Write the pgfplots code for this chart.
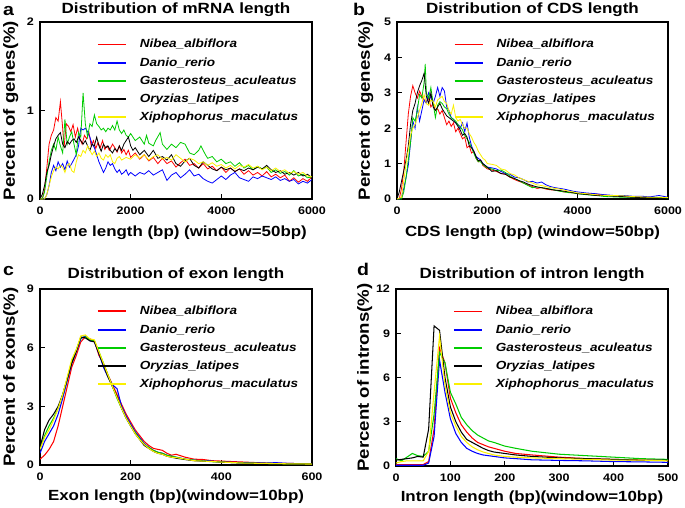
\documentclass[border=0pt]{standalone}
\usepackage{fontspec}
\setmainfont{Liberation Sans}[FakeStretch=1.15]
\usepackage{pgfplots}
\pgfplotsset{compat=1.18}

\definecolor{cred}{RGB}{255,0,0}
\definecolor{cblue}{RGB}{0,0,255}
\definecolor{cgreen}{RGB}{0,204,0}
\definecolor{cyel}{RGB}{250,240,0}

\tikzset{lwa/.style={line width=0.8pt}, lwc/.style={line width=1.05pt}}

\pgfplotsset{
  lgred/.style={legend image code/.code={\draw[cred, line width=1.8pt] (0pt,0pt) -- (28pt,0pt);}},
  lgblue/.style={legend image code/.code={\draw[cblue, line width=1.8pt] (0pt,0pt) -- (28pt,0pt);}},
  lggreen/.style={legend image code/.code={\draw[cgreen, line width=1.8pt] (0pt,0pt) -- (28pt,0pt);}},
  lgblack/.style={legend image code/.code={\draw[black, line width=1.5pt] (0pt,0pt) -- (28pt,0pt);}},
  lgyel/.style={legend image code/.code={\draw[cyel, line width=2pt] (0pt,0pt) -- (28pt,0pt);}},
  panel/.style={
    scale only axis,
    axis line style={line width=1.2pt},
    tick style={black, line width=1pt},
    major tick length=5pt,
    tick align=inside,
    xtick pos=bottom, ytick pos=left,
    /pgf/number format/assume math mode=true,
    /pgf/number format/1000 sep={},
    tick label style={font=\bfseries\fontsize{10.9}{12}\selectfont},
    xticklabel style={yshift=-4pt},
    yticklabel style={xshift=-2.5pt},
    title style={at={(0.5,1)}, anchor=base, yshift=3pt, font=\bfseries\fontsize{14.8}{17}\selectfont},
    xlabel style={at={(0.5,0)}, anchor=base, yshift=-37pt, font=\bfseries\fontsize{14.7}{16}\selectfont},
    ylabel style={anchor=base, font=\bfseries\fontsize{16.2}{18}\selectfont},
    legend cell align=left,
    legend style={at={(0.208,0.914)}, anchor=north west, draw=none, fill=none,
      font=\bfseries\itshape\fontsize{11.8}{13}\selectfont,
      row sep=4.2pt, inner sep=0pt,
      /tikz/every odd column/.append style={column sep=11pt}},
  },
}

\newcommand{\fishlegend}{%
  \addlegendimage{lgred}\addlegendentry{Nibea\_albiflora}
  \addlegendimage{lgblue}\addlegendentry{Danio\_rerio}
  \addlegendimage{lggreen}\addlegendentry{Gasterosteus\_aculeatus}
  \addlegendimage{lgblack}\addlegendentry{Oryzias\_latipes}
  \addlegendimage{lgyel}\addlegendentry{Xiphophorus\_maculatus}
}

\begin{document}
\begin{tikzpicture}
\useasboundingbox (0,0) rectangle (685pt,-507pt);

% ---------------- a: mRNA length
\begin{axis}[panel, at={(40pt,-199pt)}, anchor=south west, width=272pt, height=177pt,
  xmin=0, xmax=6000, ymin=0, ymax=2, xtick={0,2000,4000,6000}, ytick={0,1,2},
  title={Distribution of mRNA length},
  xlabel={Gene length (bp) (window=50bp)},
  ylabel={Percent of genes(\%)}, ylabel style={at={(axis description cs:-0.092,0.5)}}]
\addplot[draw=cred, lwa, forget plot] coordinates {(0,0) (50,0) (100,0.1) (150,0.35) (200,0.62) (250,0.72) (300,0.78) (350,0.92) (400,0.88) (450,1.1) (500,0.8) (530,0.58) (580,0.85) (630,0.82) (680,0.76) (730,0.84) (780,0.7) (830,0.8) (880,0.68) (930,0.62) (980,0.72) (1030,0.68) (1080,0.75) (1130,0.6) (1180,0.66) (1230,0.57) (1280,0.64) (1330,0.58) (1380,0.66) (1430,0.56) (1480,0.6) (1530,0.55) (1600,0.62) (1650,0.58) (1700,0.53) (1750,0.6) (1800,0.52) (1850,0.56) (1900,0.5) (1950,0.55) (2000,0.47) (2100,0.52) (2200,0.45) (2300,0.5) (2400,0.43) (2500,0.47) (2600,0.4) (2700,0.46) (2800,0.4) (2900,0.43) (3000,0.36) (3100,0.41) (3200,0.45) (3300,0.38) (3400,0.4) (3500,0.35) (3600,0.4) (3700,0.34) (3800,0.37) (3900,0.32) (4000,0.36) (4100,0.3) (4200,0.35) (4300,0.31) (4400,0.34) (4500,0.28) (4600,0.32) (4700,0.27) (4800,0.3) (4900,0.26) (5000,0.31) (5100,0.25) (5200,0.28) (5300,0.24) (5400,0.27) (5500,0.2) (5600,0.24) (5700,0.19) (5800,0.23) (5900,0.2) (6000,0.25)};
\addplot[draw=cblue, lwa, forget plot] coordinates {(0,0) (100,0) (150,0.05) (200,0.15) (250,0.3) (300,0.38) (350,0.32) (400,0.42) (450,0.36) (500,0.4) (550,0.33) (600,0.43) (650,0.36) (700,0.4) (750,0.45) (800,0.5) (850,0.6) (900,0.8) (950,0.78) (1000,0.8) (1050,0.76) (1100,0.7) (1150,0.62) (1200,0.58) (1250,0.5) (1300,0.42) (1350,0.36) (1400,0.3) (1450,0.35) (1500,0.42) (1550,0.38) (1600,0.4) (1650,0.34) (1700,0.3) (1750,0.33) (1800,0.28) (1850,0.3) (1900,0.33) (1950,0.27) (2000,0.3) (2100,0.26) (2200,0.3) (2300,0.28) (2400,0.32) (2500,0.27) (2600,0.3) (2700,0.33) (2800,0.21) (2900,0.27) (3000,0.3) (3100,0.24) (3200,0.28) (3300,0.33) (3400,0.26) (3500,0.28) (3600,0.23) (3700,0.2) (3800,0.18) (3900,0.22) (4000,0.26) (4100,0.22) (4200,0.27) (4300,0.3) (4400,0.24) (4500,0.22) (4600,0.2) (4700,0.25) (4800,0.23) (4900,0.26) (5000,0.24) (5100,0.22) (5200,0.25) (5300,0.21) (5400,0.23) (5500,0.2) (5600,0.22) (5700,0.17) (5800,0.2) (5900,0.18) (6000,0.22)};
\addplot[draw=cgreen, lwa, forget plot] coordinates {(0,0) (50,0) (100,0.08) (150,0.25) (200,0.42) (250,0.55) (300,0.62) (350,0.55) (400,0.7) (450,0.6) (500,0.52) (550,0.9) (600,0.62) (650,0.7) (700,0.76) (750,0.62) (800,0.5) (850,0.75) (900,0.7) (950,1.2) (1000,0.85) (1050,0.7) (1100,0.85) (1150,0.82) (1200,0.95) (1250,0.85) (1300,0.82) (1350,0.78) (1400,0.8) (1450,0.76) (1500,0.8) (1550,0.78) (1600,0.83) (1650,0.78) (1700,0.88) (1750,0.78) (1800,0.74) (1850,0.78) (1900,0.72) (1950,0.7) (2000,0.74) (2100,0.66) (2200,0.7) (2300,0.62) (2350,0.72) (2400,0.63) (2500,0.6) (2550,0.66) (2650,0.75) (2700,0.62) (2800,0.56) (2900,0.62) (3000,0.58) (3100,0.64) (3200,0.62) (3300,0.52) (3400,0.5) (3500,0.55) (3550,0.6) (3650,0.5) (3700,0.46) (3800,0.48) (3900,0.42) (4000,0.45) (4100,0.4) (4200,0.42) (4300,0.37) (4400,0.41) (4500,0.35) (4600,0.38) (4700,0.33) (4800,0.37) (4900,0.34) (5000,0.36) (5100,0.3) (5200,0.33) (5300,0.29) (5400,0.31) (5500,0.27) (5600,0.32) (5700,0.26) (5800,0.28) (5900,0.24) (6000,0.25)};
\addplot[draw=black, lwa, forget plot] coordinates {(0,0) (50,0.05) (100,0.15) (150,0.3) (200,0.38) (250,0.5) (300,0.6) (350,0.68) (400,0.72) (450,0.75) (500,0.62) (550,0.58) (600,0.65) (650,0.62) (700,0.66) (750,0.68) (800,0.64) (850,0.7) (900,0.66) (950,0.62) (1000,0.66) (1050,0.6) (1100,0.55) (1150,0.62) (1200,0.6) (1250,0.7) (1300,0.6) (1350,0.54) (1400,0.62) (1450,0.58) (1500,0.6) (1550,0.55) (1600,0.52) (1650,0.57) (1700,0.54) (1750,0.6) (1800,0.55) (1850,0.62) (1900,0.66) (1950,0.7) (2000,0.6) (2050,0.55) (2100,0.58) (2200,0.5) (2300,0.55) (2400,0.48) (2500,0.55) (2600,0.46) (2700,0.48) (2800,0.44) (2900,0.5) (3000,0.4) (3100,0.37) (3200,0.43) (3300,0.46) (3400,0.38) (3500,0.35) (3600,0.42) (3700,0.38) (3800,0.34) (3900,0.32) (4000,0.36) (4100,0.33) (4200,0.35) (4300,0.31) (4400,0.34) (4500,0.32) (4600,0.35) (4700,0.33) (4800,0.36) (4900,0.34) (5000,0.38) (5100,0.33) (5200,0.3) (5300,0.32) (5400,0.28) (5500,0.3) (5600,0.27) (5700,0.3) (5800,0.26) (5900,0.28) (6000,0.24)};
\addplot[draw=cyel, lwa, forget plot] coordinates {(0,0) (100,0) (150,0.05) (200,0.15) (250,0.25) (300,0.32) (350,0.36) (400,0.34) (450,0.38) (500,0.36) (550,0.3) (600,0.38) (650,0.4) (700,0.32) (750,0.3) (800,0.42) (850,0.5) (900,0.48) (950,0.55) (1000,0.52) (1050,0.6) (1100,0.55) (1150,0.5) (1200,0.54) (1250,0.48) (1300,0.52) (1350,0.46) (1400,0.44) (1450,0.5) (1500,0.47) (1550,0.5) (1600,0.42) (1650,0.4) (1700,0.46) (1750,0.48) (1800,0.44) (1900,0.47) (2000,0.45) (2100,0.5) (2200,0.46) (2300,0.5) (2400,0.44) (2500,0.48) (2600,0.5) (2700,0.45) (2800,0.47) (2900,0.44) (3000,0.5) (3100,0.46) (3200,0.42) (3300,0.46) (3400,0.44) (3500,0.4) (3600,0.42) (3700,0.38) (3800,0.41) (3900,0.37) (4000,0.39) (4100,0.35) (4200,0.38) (4300,0.34) (4400,0.38) (4500,0.36) (4600,0.39) (4700,0.35) (4800,0.37) (4900,0.33) (5000,0.36) (5100,0.32) (5200,0.35) (5300,0.31) (5400,0.33) (5500,0.29) (5600,0.31) (5700,0.28) (5800,0.3) (5900,0.26) (6000,0.25)};
\fishlegend
\end{axis}

% ---------------- b: CDS length
\begin{axis}[panel, at={(397pt,-199pt)}, anchor=south west, width=271pt, height=177pt,
  xmin=0, xmax=6000, ymin=0, ymax=5, xtick={0,2000,4000,6000}, ytick={0,1,2,3,4,5},
  title={Distribution of CDS length},
  xlabel={CDS length (bp) (window=50bp)},
  ylabel={Percent of genes(\%)}, ylabel style={at={(axis description cs:-0.1,0.5)}}]
\addplot[draw=cred, lwa, forget plot] coordinates {(0,0) (50,0) (100,0.3) (150,0.8) (200,1.6) (250,2.4) (300,2.9) (350,3.2) (400,3.0) (450,2.85) (500,3.05) (550,2.9) (600,2.8) (650,2.75) (700,2.85) (750,2.6) (800,2.7) (850,2.5) (900,2.55) (950,2.4) (1000,2.5) (1050,2.3) (1100,2.1) (1150,2.2) (1200,2.05) (1250,2.15) (1300,1.9) (1350,2.0) (1400,1.85) (1450,1.7) (1500,1.75) (1550,1.45) (1600,1.5) (1650,1.3) (1700,1.35) (1750,1.15) (1800,1.05) (1850,1.1) (1900,0.95) (1950,0.9) (2000,0.85) (2100,0.82) (2200,0.78) (2300,0.72) (2400,0.7) (2500,0.62) (2600,0.55) (2700,0.5) (2800,0.45) (2900,0.4) (3000,0.35) (3100,0.3) (3200,0.32) (3300,0.28) (3400,0.26) (3500,0.25) (3600,0.23) (3700,0.2) (3800,0.2) (3900,0.17) (4000,0.16) (4200,0.15) (4400,0.14) (4600,0.11) (4800,0.09) (5000,0.08) (5200,0.07) (5400,0.05) (5600,0.05) (5800,0.04) (6000,0.04)};
\addplot[draw=cblue, lwa, forget plot] coordinates {(0,0) (50,0) (100,0.05) (150,0.3) (200,0.6) (250,0.95) (300,1.6) (350,2.2) (400,2.0) (450,2.6) (500,2.2) (550,2.5) (600,2.8) (650,2.7) (700,3.0) (750,2.85) (800,2.7) (850,2.9) (900,3.15) (950,2.9) (1000,3.15) (1050,3.05) (1100,2.6) (1150,2.5) (1200,2.3) (1250,2.25) (1300,2.15) (1350,2.1) (1400,2.0) (1450,2.15) (1500,1.9) (1550,2.15) (1600,1.75) (1650,1.5) (1700,1.35) (1750,1.2) (1800,1.15) (1850,1.1) (1900,1.0) (1950,0.95) (2000,0.9) (2100,0.88) (2200,0.85) (2300,0.78) (2400,0.72) (2500,0.7) (2600,0.62) (2700,0.6) (2800,0.55) (2900,0.48) (3000,0.5) (3100,0.45) (3200,0.48) (3300,0.4) (3400,0.35) (3500,0.32) (3600,0.3) (3700,0.28) (3800,0.25) (3900,0.22) (4000,0.2) (4200,0.17) (4400,0.15) (4600,0.12) (4800,0.1) (5000,0.1) (5200,0.08) (5400,0.08) (5600,0.06) (5800,0.1) (6000,0.05)};
\addplot[draw=cgreen, lwa, forget plot] coordinates {(0,0) (100,0) (150,0.2) (200,0.6) (250,1.1) (300,1.6) (350,2.3) (400,2.2) (450,2.5) (500,2.95) (550,2.85) (600,3.3) (625,3.82) (650,3.0) (700,2.85) (750,3.15) (800,2.7) (850,2.3) (900,2.65) (950,2.75) (1000,2.7) (1050,2.6) (1100,2.55) (1150,2.4) (1200,2.3) (1250,2.25) (1300,2.2) (1350,2.1) (1400,2.05) (1450,1.95) (1500,1.8) (1550,1.7) (1600,1.6) (1650,1.45) (1700,1.3) (1750,1.15) (1800,1.05) (1850,1.05) (1900,0.98) (1950,0.92) (2000,0.88) (2100,0.85) (2200,0.8) (2300,0.82) (2400,0.75) (2500,0.65) (2600,0.58) (2700,0.52) (2800,0.45) (2900,0.38) (3000,0.32) (3100,0.34) (3200,0.32) (3300,0.3) (3400,0.28) (3500,0.25) (3600,0.22) (3700,0.2) (3800,0.18) (3900,0.17) (4000,0.15) (4200,0.12) (4400,0.1) (4600,0.07) (4800,0.06) (5000,0.05) (5200,0.05) (5400,0.04) (5600,0.04) (5800,0.04) (6000,0.03)};
\addplot[draw=black, lwa, forget plot] coordinates {(0,0) (50,0.2) (100,0.5) (150,0.8) (200,1.1) (250,1.5) (300,2.1) (350,2.5) (400,2.7) (450,3.0) (500,3.2) (550,3.35) (600,3.55) (650,2.9) (700,2.7) (750,3.0) (800,2.6) (850,2.5) (900,2.6) (950,2.7) (1000,2.55) (1050,2.45) (1100,2.35) (1150,2.3) (1200,2.25) (1250,2.2) (1300,2.15) (1350,2.05) (1400,1.95) (1450,1.8) (1500,1.85) (1550,1.75) (1600,1.5) (1650,1.45) (1700,1.35) (1750,1.2) (1800,1.08) (1850,1.1) (1900,1.0) (1950,0.95) (2000,0.9) (2100,0.78) (2200,0.8) (2300,0.72) (2400,0.7) (2500,0.62) (2600,0.58) (2700,0.52) (2800,0.48) (2900,0.42) (3000,0.38) (3100,0.34) (3200,0.32) (3300,0.3) (3400,0.27) (3500,0.25) (3600,0.24) (3700,0.22) (3800,0.2) (3900,0.18) (4000,0.15) (4200,0.13) (4400,0.1) (4600,0.1) (4800,0.08) (5000,0.07) (5200,0.05) (5400,0.04) (5600,0.04) (5800,0.03) (6000,0.03)};
\addplot[draw=cyel, lwa, forget plot] coordinates {(0,0) (100,0.05) (150,0.5) (200,1.0) (250,1.4) (300,1.8) (350,2.0) (400,2.1) (450,2.3) (500,2.5) (550,2.7) (600,2.95) (650,2.7) (700,2.65) (750,2.8) (800,2.75) (850,2.6) (900,2.8) (950,2.85) (1000,2.9) (1050,2.75) (1100,2.7) (1150,2.5) (1200,2.4) (1250,2.65) (1300,2.3) (1350,2.2) (1400,2.25) (1450,2.1) (1500,2.0) (1550,2.0) (1600,1.85) (1650,1.75) (1700,1.6) (1750,1.5) (1800,1.35) (1850,1.25) (1900,1.15) (1950,1.1) (2000,1.0) (2100,0.98) (2200,0.95) (2300,0.85) (2400,0.82) (2500,0.72) (2600,0.68) (2700,0.6) (2800,0.55) (2900,0.5) (3000,0.45) (3100,0.4) (3200,0.38) (3300,0.35) (3400,0.32) (3500,0.3) (3600,0.28) (3700,0.25) (3800,0.22) (3900,0.2) (4000,0.17) (4200,0.15) (4400,0.12) (4600,0.1) (4800,0.1) (5000,0.09) (5200,0.07) (5400,0.06) (5600,0.05) (5800,0.05) (6000,0.04)};
\fishlegend
\end{axis}

% ---------------- c: exon length
\begin{axis}[panel, at={(40pt,-465pt)}, anchor=south west, width=272pt, height=176pt,
  xmin=0, xmax=600, ymin=0, ymax=9, xtick={0,200,400,600}, ytick={0,3,6,9},
  title={Distribution of exon length}, title style={yshift=1.5pt},
  xlabel={Exon length (bp)(window=10bp)}, xlabel style={yshift=2pt},
  ylabel={Percent of exons(\%)}, ylabel style={at={(axis description cs:-0.092,0.5)}}]
\addplot[draw=cred, lwc, forget plot] coordinates {(0,0.3) (10,0.5) (20,0.8) (30,1.2) (40,2.0) (50,3.0) (60,4.0) (70,5.0) (80,5.6) (90,6.3) (100,6.55) (110,6.45) (120,6.35) (130,5.6) (140,5.2) (150,4.6) (160,4.1) (170,3.6) (180,3.1) (190,2.6) (200,2.2) (210,1.8) (220,1.5) (230,1.2) (240,1.0) (250,0.85) (260,0.8) (270,0.75) (280,0.6) (290,0.5) (300,0.55) (320,0.4) (340,0.3) (360,0.28) (380,0.22) (400,0.2) (450,0.15) (500,0.1) (550,0.08) (600,0.06)};
\addplot[draw=cblue, lwc, forget plot] coordinates {(0,0.6) (10,1.2) (20,1.6) (30,2.0) (40,2.6) (50,3.4) (60,4.3) (70,5.2) (80,5.8) (90,6.45) (100,6.6) (110,6.35) (120,6.3) (130,5.7) (140,5.0) (150,4.5) (160,4.1) (170,3.9) (180,3.0) (190,2.5) (200,2.1) (210,1.7) (220,1.4) (230,1.1) (240,0.9) (250,0.75) (260,0.65) (270,0.6) (280,0.5) (290,0.45) (300,0.4) (320,0.3) (340,0.25) (360,0.2) (370,0.22) (400,0.15) (450,0.12) (500,0.1) (520,0.12) (550,0.08) (600,0.06)};
\addplot[draw=cgreen, lwc, forget plot] coordinates {(0,0.8) (10,1.5) (20,2.0) (30,2.4) (40,2.9) (50,3.6) (60,4.4) (70,5.3) (80,5.9) (90,6.5) (100,6.55) (110,6.4) (120,6.35) (130,5.8) (140,5.2) (150,4.6) (160,4.0) (170,3.4) (180,2.9) (190,2.4) (200,2.0) (210,1.65) (220,1.35) (230,1.05) (240,0.9) (250,0.75) (260,0.65) (270,0.6) (280,0.5) (290,0.45) (300,0.4) (320,0.3) (340,0.25) (360,0.2) (380,0.17) (400,0.15) (450,0.1) (500,0.08) (550,0.06) (600,0.05)};
\addplot[draw=black, lwc, forget plot] coordinates {(0,0.9) (10,1.8) (20,2.3) (30,2.6) (40,3.0) (50,3.6) (60,4.4) (70,5.2) (80,5.8) (90,6.55) (100,6.5) (110,6.35) (120,6.3) (130,5.7) (140,5.1) (150,4.5) (160,4.0) (170,3.5) (180,2.9) (190,2.4) (200,2.0) (210,1.6) (220,1.3) (230,1.0) (240,0.85) (250,0.7) (260,0.6) (270,0.55) (280,0.45) (290,0.4) (300,0.35) (320,0.28) (340,0.22) (360,0.2) (380,0.18) (400,0.15) (450,0.1) (500,0.08) (550,0.06) (600,0.05)};
\addplot[draw=cyel, lwc, forget plot] coordinates {(0,0.8) (10,1.4) (20,1.8) (30,2.3) (40,2.9) (50,3.6) (60,4.5) (70,5.4) (80,5.9) (90,6.6) (100,6.65) (110,6.45) (120,6.4) (130,5.8) (140,5.2) (150,4.6) (160,4.0) (170,3.45) (180,2.9) (190,2.4) (200,2.0) (210,1.6) (220,1.3) (230,1.05) (240,0.85) (250,0.7) (260,0.6) (270,0.55) (280,0.45) (290,0.4) (300,0.38) (320,0.3) (340,0.22) (360,0.2) (380,0.18) (400,0.15) (450,0.1) (500,0.08) (550,0.06) (600,0.05)};
\fishlegend
\end{axis}

% ---------------- d: intron length
\begin{axis}[panel, at={(396pt,-466pt)}, anchor=south west, width=272pt, height=177pt,
  xmin=0, xmax=500, ymin=0, ymax=12, xtick={0,100,200,300,400,500}, ytick={0,3,6,9,12},
  title={Distribution of intron length}, title style={yshift=1.5pt},
  xlabel={Intron length (bp)(window=10bp)}, xlabel style={yshift=2pt},
  ylabel={Percent of introns(\%)}, ylabel style={at={(axis description cs:-0.1,0.5)}}]
\addplot[draw=cred, lwc, forget plot] coordinates {(0,0.1) (10,0.1) (20,0.1) (30,0.1) (40,0.1) (50,0.1) (60,0.3) (70,2.5) (80,8.0) (90,7.0) (100,4.6) (110,3.6) (120,2.8) (130,2.3) (140,1.9) (150,1.6) (160,1.45) (170,1.3) (180,1.2) (200,1.0) (220,0.85) (250,0.75) (300,0.6) (350,0.5) (400,0.45) (450,0.4) (500,0.4)};
\addplot[draw=cblue, lwc, forget plot] coordinates {(0,0.05) (10,0.05) (20,0.05) (30,0.05) (40,0.05) (50,0.05) (60,0.2) (70,2.0) (80,7.2) (90,5.0) (100,3.2) (110,2.2) (120,1.6) (130,1.2) (140,1.0) (150,0.85) (160,0.75) (170,0.7) (180,0.65) (200,0.55) (220,0.5) (250,0.42) (300,0.38) (350,0.35) (400,0.3) (450,0.28) (500,0.25)};
\addplot[draw=cgreen, lwc, forget plot] coordinates {(0,0.5) (10,0.35) (20,0.6) (30,0.85) (40,0.7) (50,0.65) (60,1.0) (70,3.5) (80,7.7) (90,7.0) (100,5.0) (110,4.2) (120,3.3) (130,2.8) (140,2.4) (150,2.1) (160,1.9) (170,1.7) (180,1.6) (200,1.35) (220,1.2) (250,1.0) (300,0.8) (350,0.7) (400,0.6) (450,0.5) (500,0.45)};
\addplot[draw=black, lwc, forget plot] coordinates {(0,0.4) (10,0.45) (20,0.5) (30,0.55) (40,0.65) (50,0.6) (60,2.5) (70,9.5) (80,9.2) (90,6.0) (100,4.0) (110,3.0) (120,2.3) (130,1.8) (140,1.6) (150,1.4) (160,1.2) (170,1.05) (180,0.95) (200,0.85) (220,0.75) (250,0.65) (300,0.55) (350,0.5) (400,0.45) (450,0.4) (500,0.4)};
\addplot[draw=cyel, lwc, forget plot] coordinates {(0,0.2) (10,0.3) (20,0.35) (30,0.35) (40,0.35) (50,0.35) (60,1.0) (70,5.0) (80,8.8) (90,5.5) (100,3.6) (110,2.7) (120,2.0) (130,1.6) (140,1.3) (150,1.1) (160,0.95) (170,0.85) (180,0.75) (200,0.65) (220,0.6) (250,0.55) (300,0.5) (350,0.45) (400,0.4) (450,0.4) (500,0.35)};
\fishlegend
\end{axis}

% panel letters
\node[anchor=base west, font=\bfseries\fontsize{17}{18}\selectfont, inner sep=0pt] at (3pt,-15pt) {a};
\node[anchor=base west, font=\bfseries\fontsize{17}{18}\selectfont, inner sep=0pt] at (353pt,-15pt) {b};
\node[anchor=base west, font=\bfseries\fontsize{17}{18}\selectfont, inner sep=0pt] at (3pt,-275pt) {c};
\node[anchor=base west, font=\bfseries\fontsize{17}{18}\selectfont, inner sep=0pt] at (357pt,-275pt) {d};
\end{tikzpicture}
\end{document}
